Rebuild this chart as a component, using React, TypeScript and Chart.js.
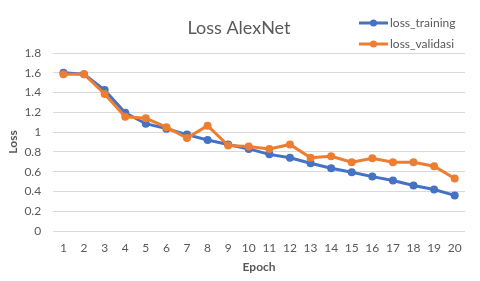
import React, { useEffect, useRef } from "react";
import { Chart, registerables } from "chart.js";

Chart.register(...registerables);

const epochs = ["1","2","3","4","5","6","7","8","9","10","11","12","13","14","15","16","17","18","19","20"];
const lossTraining = [1.60, 1.585, 1.425, 1.195, 1.085, 1.035, 0.975, 0.92, 0.875, 0.83, 0.775, 0.74, 0.685, 0.635, 0.595, 0.55, 0.51, 0.46, 0.42, 0.36];
const lossValidasi = [1.585, 1.585, 1.385, 1.155, 1.14, 1.05, 0.94, 1.065, 0.865, 0.855, 0.83, 0.875, 0.74, 0.755, 0.695, 0.735, 0.695, 0.695, 0.655, 0.53];
const titleText = "Loss AlexNet";
const xTitle = "Epoch";
const yTitle = "Loss";

const FONT = "Lato, 'Open Sans', sans-serif";
const GRAY = "#595959";
const BLUE = "#4472C4";
const ORANGE = "#ED7D31";

const overlayPlugin = {
  id: "overlay",
  afterDraw(chart: any) {
    const ctx = chart.ctx as CanvasRenderingContext2D;
    ctx.save();
    ctx.fillStyle = GRAY;
    ctx.font = `18px ${FONT}`;
    ctx.textAlign = "center";
    ctx.textBaseline = "middle";
    ctx.fillText(titleText, 239, 28);
    const rows = [
      { label: chart.data.datasets[0].label, color: BLUE, y: 23 },
      { label: chart.data.datasets[1].label, color: ORANGE, y: 44 },
    ];
    ctx.font = `12px ${FONT}`;
    ctx.textAlign = "left";
    for (const r of rows) {
      ctx.strokeStyle = r.color;
      ctx.lineWidth = 3;
      ctx.beginPath();
      ctx.moveTo(359, r.y);
      ctx.lineTo(388, r.y);
      ctx.stroke();
      ctx.fillStyle = r.color;
      ctx.beginPath();
      ctx.arc(373.5, r.y, 3.5, 0, Math.PI * 2);
      ctx.fill();
      ctx.fillStyle = GRAY;
      ctx.fillText(r.label, 390, r.y);
    }
    ctx.restore();
  },
};

export default function App() {
  const ref = useRef<HTMLCanvasElement | null>(null);
  useEffect(() => {
    if (!ref.current) return;
    const chart = new Chart(ref.current, {
      type: "line",
      data: {
        labels: epochs,
        datasets: [
          {
            label: "loss_training",
            data: lossTraining,
            borderColor: BLUE,
            backgroundColor: BLUE,
            borderWidth: 3,
            pointRadius: 4,
            pointBorderWidth: 0,
            pointBackgroundColor: BLUE,
            order: 1,
          },
          {
            label: "loss_validasi",
            data: lossValidasi,
            borderColor: ORANGE,
            backgroundColor: ORANGE,
            borderWidth: 3,
            pointRadius: 4,
            pointBorderWidth: 0,
            pointBackgroundColor: ORANGE,
            order: 0,
          },
        ],
      },
      options: {
        responsive: false,
        animation: false,
        layout: { padding: { left: 0, top: 53, right: 15, bottom: 6.5 } },
        plugins: {
          legend: { display: false },
          title: { display: false },
          tooltip: { enabled: false },
        },
        scales: {
          x: {
            offset: true,
            grid: { display: false, drawTicks: true, tickLength: 10 },
            border: { display: false },
            ticks: {
              color: GRAY,
              font: { family: FONT, size: 12 },
              padding: 0,
              maxRotation: 0,
              autoSkip: false,
            },
            title: {
              display: true,
              text: xTitle,
              color: GRAY,
              font: { family: FONT, size: 12, weight: "bold" },
              padding: { top: 4.7, bottom: 0 },
            },
          },
          y: {
            min: 0,
            max: 1.8,
            grid: { color: "#d9d9d9", lineWidth: 1, drawTicks: true, tickLength: 12, tickColor: "rgba(0,0,0,0)" },
            border: { display: false },
            ticks: {
              stepSize: 0.2,
              color: GRAY,
              font: { family: FONT, size: 12 },
              padding: 0,
              callback: (v: any) => String(Math.round(Number(v) * 10) / 10),
            },
            title: {
              display: true,
              text: yTitle,
              color: GRAY,
              font: { family: FONT, size: 12, weight: "bold" },
              padding: { top: 6, bottom: 4 },
            },
          },
        },
      },
      plugins: [overlayPlugin],
    });
    return () => chart.destroy();
  }, []);
  return (
    <div style={{ position: "absolute", left: 0, top: 0, width: 480, height: 281, background: "#fff" }}>
      <canvas ref={ref} width={480} height={281} style={{ width: 480, height: 281 }} />
    </div>
  );
}
